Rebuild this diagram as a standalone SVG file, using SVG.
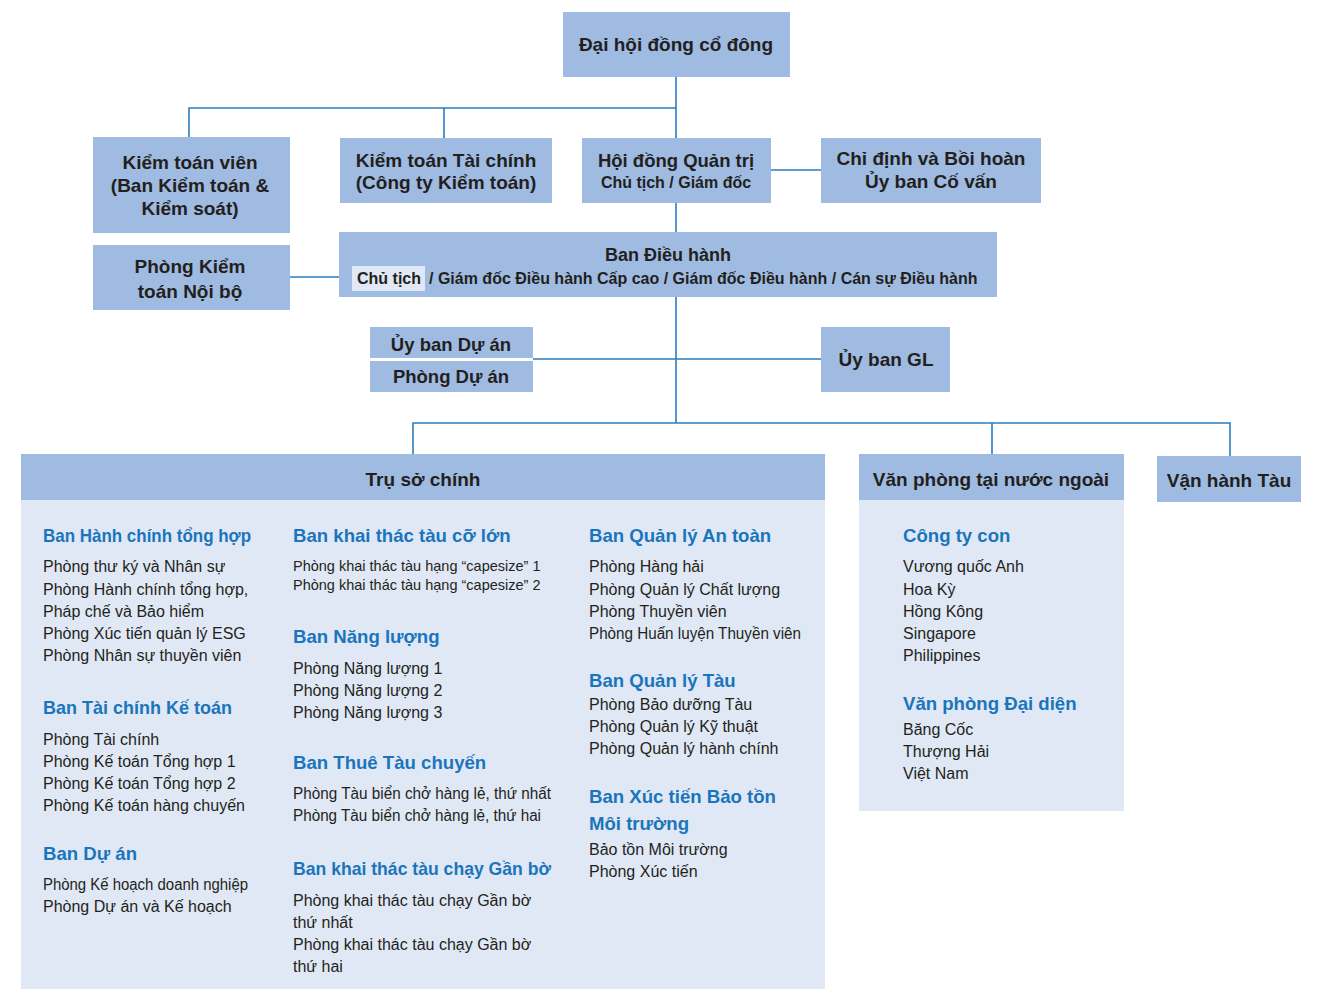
<svg xmlns="http://www.w3.org/2000/svg" width="1319" height="989" viewBox="0 0 1319 989">
<style>
.box{fill:#9FBBE1}
.panel{fill:#E0E8F5}
.hl{fill:#E0E8F5}
.t{font-family:"Liberation Sans",Arial,sans-serif;font-weight:bold;fill:#231F20;text-anchor:middle}
.t18{font-size:19px}
.t17{font-size:18px}
.t15{font-size:16px}
.h{font-family:"Liberation Sans",Arial,sans-serif;font-weight:bold;font-size:18.6px;fill:#1A75BC}
.b{font-family:"Liberation Sans",Arial,sans-serif;font-size:16px;fill:#231F20}
.s{font-family:"Liberation Sans",Arial,sans-serif;font-size:14.5px;fill:#231F20}
.c{fill:none;stroke:#2A7DC1;stroke-width:1.6}
</style>
<rect width="1319" height="989" fill="#FFFFFF"/>
<g id="connectors">
<path class="c" d="M676 77V138M189 137V108H676M444 108V138M771 170H821M676 203V232M290 277H352M676 297V423M533 359H821M413 454V423H1230V456M992 423V454"/>
</g>
<g id="dai-hoi">
<rect class="box" x="563" y="12" width="227" height="65"/>
<text class="t t18" x="676" y="51">Đại hội đồng cổ đông</text>
</g>
<g id="kiem-toan-vien">
<rect class="box" x="93" y="137" width="197" height="96"/>
<text class="t t18" x="190" y="169">Kiểm toán viên</text>
<text class="t t18" x="190" y="192">(Ban Kiểm toán &amp;</text>
<text class="t t18" x="190" y="215">Kiểm soát)</text>
</g>
<g id="kiem-toan-tai-chinh">
<rect class="box" x="340" y="138" width="212" height="65"/>
<text class="t t18" x="446" y="167">Kiểm toán Tài chính</text>
<text class="t t18" x="446" y="189">(Công ty Kiểm toán)</text>
</g>
<g id="hoi-dong-quan-tri">
<rect class="box" x="582" y="138" width="189" height="65"/>
<text class="t t18" x="676" y="167" style="font-size:18.5px">Hội đồng Quản trị</text>
<text class="t t15" x="676" y="188">Chủ tịch / Giám đốc</text>
</g>
<g id="chi-dinh">
<rect class="box" x="821" y="138" width="220" height="65"/>
<text class="t t18" x="931" y="165">Chỉ định và Bồi hoàn</text>
<text class="t t18" x="931" y="188">Ủy ban Cố vấn</text>
</g>
<g id="phong-kiem-toan-noi-bo">
<rect class="box" x="93" y="245" width="197" height="65"/>
<text class="t t18" x="190" y="273">Phòng Kiểm</text>
<text class="t t18" x="190" y="298">toán Nội bộ</text>
</g>
<g id="ban-dieu-hanh">
<rect class="box" x="339" y="232" width="658" height="65"/>
<rect class="hl" x="352" y="266" width="73" height="25"/>
<text class="t t17" x="668" y="261">Ban Điều hành</text>
<text class="t t15" x="357" y="284" style="text-anchor:start">Chủ tịch</text>
<text class="t t15" x="429" y="284" style="text-anchor:start">/ Giám đốc Điều hành Cấp cao / Giám đốc Điều hành / Cán sự Điều hành</text>
</g>
<g id="uy-ban-du-an">
<rect class="box" x="370" y="327" width="163" height="31"/>
<text class="t t18" x="451" y="351" style="font-size:18.5px">Ủy ban Dự án</text>
</g>
<g id="phong-du-an">
<rect class="box" x="370" y="361" width="163" height="31"/>
<text class="t t18" x="451" y="383" style="font-size:18.5px">Phòng Dự án</text>
</g>
<g id="uy-ban-gl">
<rect class="box" x="821" y="327" width="129" height="65"/>
<text class="t t18" x="886" y="366">Ủy ban GL</text>
</g>
<g id="tru-so-chinh">
<rect class="panel" x="21" y="500" width="804" height="489"/>
<rect class="box" x="21" y="454" width="804" height="46"/>
<text class="t t18" x="423" y="486">Trụ sở chính</text>
<text class="h" x="43" y="542" textLength="208" lengthAdjust="spacingAndGlyphs">Ban Hành chính tổng hợp</text>
<text class="b" x="43" y="572">Phòng thư ký và Nhân sự</text>
<text class="b" x="43" y="595">Phòng Hành chính tổng hợp,</text>
<text class="b" x="43" y="617">Pháp chế và Bảo hiểm</text>
<text class="b" x="43" y="639">Phòng Xúc tiến quản lý ESG</text>
<text class="b" x="43" y="661">Phòng Nhân sự thuyền viên</text>
<text class="h" x="43" y="714" textLength="189" lengthAdjust="spacingAndGlyphs">Ban Tài chính Kế toán</text>
<text class="b" x="43" y="745">Phòng Tài chính</text>
<text class="b" x="43" y="767">Phòng Kế toán Tổng hợp 1</text>
<text class="b" x="43" y="789">Phòng Kế toán Tổng hợp 2</text>
<text class="b" x="43" y="811">Phòng Kế toán hàng chuyến</text>
<text class="h" x="43" y="860">Ban Dự án</text>
<text class="b" x="43" y="890" textLength="205" lengthAdjust="spacingAndGlyphs">Phòng Kế hoạch doanh nghiệp</text>
<text class="b" x="43" y="912">Phòng Dự án và Kế hoạch</text>
<text class="h" x="293" y="542">Ban khai thác tàu cỡ lớn</text>
<text class="s" x="293" y="571">Phòng khai thác tàu hạng “capesize” 1</text>
<text class="s" x="293" y="590">Phòng khai thác tàu hạng “capesize” 2</text>
<text class="h" x="293" y="643">Ban Năng lượng</text>
<text class="b" x="293" y="674">Phòng Năng lượng 1</text>
<text class="b" x="293" y="696">Phòng Năng lượng 2</text>
<text class="b" x="293" y="718">Phòng Năng lượng 3</text>
<text class="h" x="293" y="769">Ban Thuê Tàu chuyến</text>
<text class="b" x="293" y="799" textLength="258" lengthAdjust="spacingAndGlyphs">Phòng Tàu biển chở hàng lẻ, thứ nhất</text>
<text class="b" x="293" y="821" textLength="248" lengthAdjust="spacingAndGlyphs">Phòng Tàu biển chở hàng lẻ, thứ hai</text>
<text class="h" x="293" y="875" textLength="258" lengthAdjust="spacingAndGlyphs">Ban khai thác tàu chạy Gần bờ</text>
<text class="b" x="293" y="906">Phòng khai thác tàu chạy Gần bờ</text>
<text class="b" x="293" y="928">thứ nhất</text>
<text class="b" x="293" y="950">Phòng khai thác tàu chạy Gần bờ</text>
<text class="b" x="293" y="972">thứ hai</text>
<text class="h" x="589" y="542">Ban Quản lý An toàn</text>
<text class="b" x="589" y="572">Phòng Hàng hải</text>
<text class="b" x="589" y="595">Phòng Quản lý Chất lượng</text>
<text class="b" x="589" y="617">Phòng Thuyền viên</text>
<text class="b" x="589" y="639" textLength="212" lengthAdjust="spacingAndGlyphs">Phòng Huấn luyện Thuyền viên</text>
<text class="h" x="589" y="687">Ban Quản lý Tàu</text>
<text class="b" x="589" y="710">Phòng Bảo dưỡng Tàu</text>
<text class="b" x="589" y="732">Phòng Quản lý Kỹ thuật</text>
<text class="b" x="589" y="754">Phòng Quản lý hành chính</text>
<text class="h" x="589" y="803">Ban Xúc tiến Bảo tồn</text>
<text class="h" x="589" y="830">Môi trường</text>
<text class="b" x="589" y="855">Bảo tồn Môi trường</text>
<text class="b" x="589" y="877">Phòng Xúc tiến</text>
</g>
<g id="van-phong-nuoc-ngoai">
<rect class="panel" x="859" y="500" width="265" height="311"/>
<rect class="box" x="859" y="454" width="265" height="46"/>
<text class="t t18" x="991" y="486">Văn phòng tại nước ngoài</text>
<text class="h" x="903" y="542">Công ty con</text>
<text class="b" x="903" y="572">Vương quốc Anh</text>
<text class="b" x="903" y="595">Hoa Kỳ</text>
<text class="b" x="903" y="617">Hồng Kông</text>
<text class="b" x="903" y="639">Singapore</text>
<text class="b" x="903" y="661">Philippines</text>
<text class="h" x="903" y="710">Văn phòng Đại diện</text>
<text class="b" x="903" y="735">Băng Cốc</text>
<text class="b" x="903" y="757">Thượng Hải</text>
<text class="b" x="903" y="779">Việt Nam</text>
</g>
<g id="van-hanh-tau">
<rect class="box" x="1157" y="456" width="144" height="46"/>
<text class="t t18" x="1229" y="487">Vận hành Tàu</text>
</g>
</svg>
